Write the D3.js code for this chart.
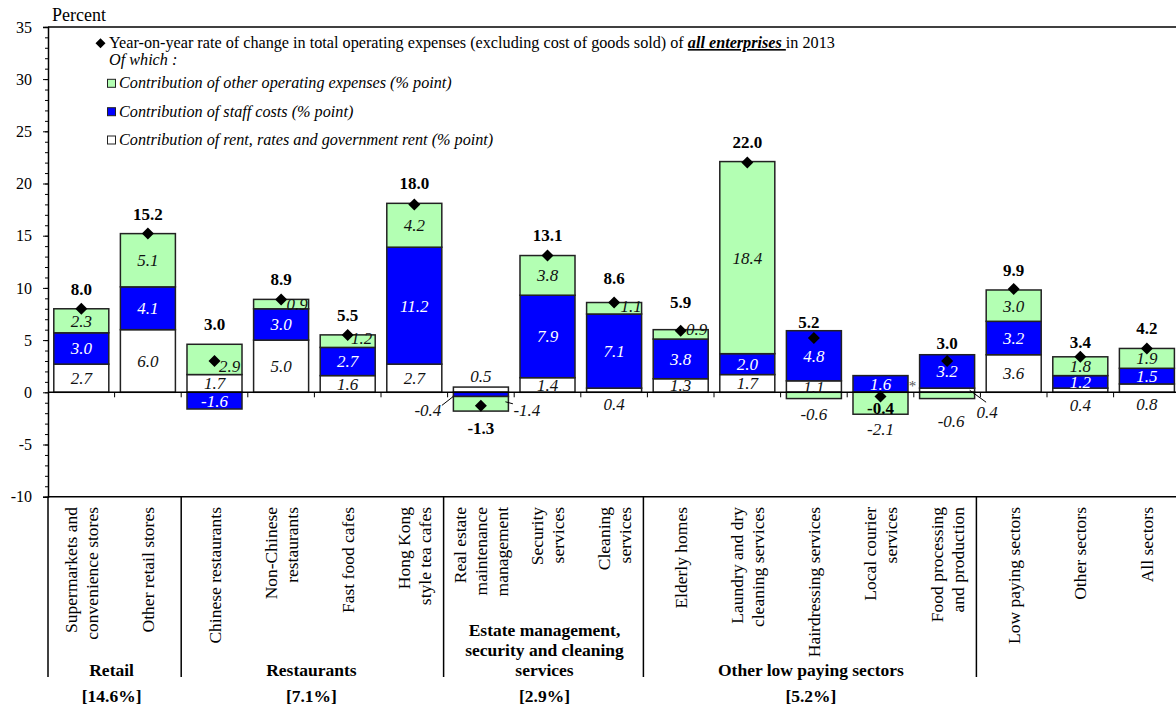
<!DOCTYPE html>
<html><head><meta charset="utf-8">
<script src="https://cdn.jsdelivr.net/npm/d3@7"></script>
<style>
html,body{margin:0;padding:0;background:#fff;}
svg{display:block;font-family:"Liberation Serif","Times New Roman",serif;}
</style></head>
<body><svg id="c" width="1176" height="709"></svg>
<script>
// ---------- data ----------
const categories = ["Supermarkets and|convenience stores","Other retail stores","Chinese restaurants","Non-Chinese|restaurants","Fast food cafes","Hong Kong|style tea cafes","Real estate|maintenance|management","Security|services","Cleaning|services","Elderly homes","Laundry and dry|cleaning services","Hairdressing services","Local courier|services","Food processing|and production","Low paying sectors","Other sectors","All sectors"];
const rentValues  = [2.7, 6.0, 1.7, 5.0, 1.6, 2.7, 0.5, 1.4, 0.4, 1.3, 1.7, 1.1, 0.0, 0.4, 3.6, 0.4, 0.8];
const staffValues = [3.0, 4.1,-1.6, 3.0, 2.7,11.2,-0.4, 7.9, 7.1, 3.8, 2.0, 4.8, 1.6, 3.2, 3.2, 1.2, 1.5];
const otherValues = [2.3, 5.1, 2.9, 0.9, 1.2, 4.2,-1.4, 3.8, 1.1, 0.9,18.4,-0.6,-2.1,-0.6, 3.0, 1.8, 1.9];
const totalValues = [8.0,15.2, 3.0, 8.9, 5.5,18.0,-1.3,13.1, 8.6, 5.9,22.0, 5.2,-0.4, 3.0, 9.9, 3.4, 4.2];
const groupNames  = ["Retail","Restaurants","Estate management,|security and cleaning|services","Other low paying sectors"];
const groupShares = ["[14.6%]","[7.1%]","[2.9%]","[5.2%]"];
const groupSizes  = [2, 4, 3, 5];
const yTicks = [-10,-5,0,5,10,15,20,25,30,35];
const legendLabels = ["Contribution of other operating expenses (% point)","Contribution of staff costs (% point)","Contribution of rent, rates and government rent (% point)"];

// ---------- setup ----------
const svg = d3.select("#c");
const colors = {rent:"#ffffff", staff:"#0000ff", other:"#b3ffb3"};
const n = categories.length;
const left = 48, step = 66.6;
const x = d3.scaleBand().domain(d3.range(n)).range([left, left + n*step]).paddingInner(0.174).paddingOuter(0.087);
const y = d3.scaleLinear().domain([-10,35]).range([496.7, 26.9]);

// frame lines
svg.append("line").attr("x1",left).attr("x2",1176).attr("y1",y(35)).attr("y2",y(35)).attr("stroke","#000").attr("stroke-width",1.5);
svg.append("line").attr("x1",left).attr("x2",1176).attr("y1",y(-10)).attr("y2",y(-10)).attr("stroke","#000").attr("stroke-width",1.5);

// y axis
const yMinor = svg.append("g").attr("transform",`translate(${left},0)`)
  .call(d3.axisLeft(y).tickValues(d3.range(-10,36,1)).tickSize(3).tickFormat(""));
yMinor.select(".domain").remove();
yMinor.selectAll("line").attr("stroke","#000");
const yAx = svg.append("g").attr("transform",`translate(${left},0)`)
  .call(d3.axisLeft(y).tickValues(yTicks).tickSize(5).tickPadding(11).tickFormat(d=>String(d)));
yAx.select(".domain").attr("stroke","#000").attr("stroke-width",1.5);
yAx.selectAll("text").attr("font-size",16).attr("font-family","Liberation Serif").attr("fill","#000");
yAx.selectAll("line").attr("stroke","#000");
svg.append("line").attr("x1",left).attr("x2",left).attr("y1",y(-10)).attr("y2",677).attr("stroke","#000").attr("stroke-width",1.5);

svg.append("text").attr("x",52).attr("y",21).attr("font-size",18).text("Percent");

// ---------- stacked bars ----------
const segs = [];
for (let i=0;i<n;i++){
  let pos=0, neg=0;
  [["rent",rentValues[i]],["staff",staffValues[i]],["other",otherValues[i]]].forEach(([k,v])=>{
    let y0,y1;
    if (v>=0){ y0=pos; y1=pos+v; pos+=v; } else { y0=neg+v; y1=neg; neg+=v; }
    segs.push({i,k,v,y0,y1});
  });
}
svg.append("g").selectAll("rect").data(segs.filter(s=>s.v!==0)).join("rect")
  .attr("x",d=>x(d.i)).attr("width",x.bandwidth())
  .attr("y",d=>y(d.y1)).attr("height",d=>y(d.y0)-y(d.y1))
  .attr("fill",d=>colors[d.k]).attr("stroke","#222").attr("stroke-width",1.5);

// zero axis line + ticks
svg.append("line").attr("x1",left).attr("x2",1176).attr("y1",y(0)).attr("y2",y(0)).attr("stroke","#000").attr("stroke-width",1.5);
svg.append("g").selectAll("line").data(d3.range(1,n)).join("line")
  .attr("x1",d=>left+d*step).attr("x2",d=>left+d*step).attr("y1",y(0)).attr("y2",y(0)+5)
  .attr("stroke","#000").attr("stroke-width",1);

// ---------- segment labels ----------
const over = {
  "2-other":{dx:15,dy:7}, "3-other":{dx:16,dy:0}, "4-other":{dx:14,dy:-3},
  "8-other":{dx:17,dy:-2}, "9-other":{dx:16,dy:-5},
  "8-rent":{dx:0,dy:14}, "6-rent":{dx:0,dy:-14},
  "6-staff":{dx:-53,dy:16,leader:"L"}, "6-other":{dx:46,dy:6,leader:"R"},
  "11-other":{dx:0,dy:19}, "12-other":{dx:0,dy:26}, "12-rent":{dx:32,dy:-7,star:true},
  "13-rent":{dx:40,dy:22,leader:"D"}, "13-other":{dx:4,dy:26},
  "15-rent":{dx:0,dy:15}, "16-rent":{dx:0,dy:16}
};
const lg = svg.append("g");
segs.forEach(s=>{
  const key = s.i+"-"+s.k, o = over[key]||{dx:0,dy:0};
  const cx = x(s.i)+x.bandwidth()/2, cy = (y(s.y0)+y(s.y1))/2;
  const lx = cx+o.dx, ly = cy+o.dy;
  const t = lg.append("text").attr("x",lx).attr("y",ly).attr("dy","0.35em")
    .attr("text-anchor","middle").attr("font-style","italic")
    .attr("font-size", o.star?15:17)
    .attr("fill", o.star ? "#555" : (s.k==="staff" && !o.leader ? "#fff" : "#111"))
    .text(o.star ? "*" : s.v.toFixed(1));
  if (o.star) t.attr("font-style","normal");
  if (o.leader==="L"){
    lg.append("line").attr("x1",x(s.i)).attr("y1",cy+2).attr("x2",lx+14).attr("y2",ly-5).attr("stroke","#000").attr("stroke-width",1);
  } else if (o.leader==="R"){
    lg.append("line").attr("x1",x(s.i)+x.bandwidth()-3).attr("y1",cy-2).attr("x2",lx-14).attr("y2",ly-6).attr("stroke","#000").attr("stroke-width",1);
  } else if (o.leader==="D"){
    lg.append("line").attr("x1",x(s.i)+x.bandwidth()-5).attr("y1",cy).attr("x2",lx-1).attr("y2",ly-10).attr("stroke","#000").attr("stroke-width",1);
  }
});

// ---------- diamonds (total) ----------
const diamond = "M0,-6L6,0L0,6L-6,0Z";
svg.append("g").selectAll("path").data(totalValues).join("path")
  .attr("d",diamond).attr("fill","#000")
  .attr("transform",(d,i)=>`translate(${x(i)+x.bandwidth()/2},${y(d)})`);

// total labels
const totOver = {9:{dx:0,dy:-8}, 11:{dx:-5,dy:11}, 12:{dx:0,dy:-23}, 13:{dx:0,dy:8}, 15:{dx:0,dy:5}, 8:{dx:0,dy:-4}};
totalValues.forEach((v,i)=>{
  const posTop = segs.filter(s=>s.i===i).reduce((m,s)=>Math.max(m,s.y1),0);
  const negBot = segs.filter(s=>s.i===i).reduce((m,s)=>Math.min(m,s.y0),0);
  const o = totOver[i]||{dx:0,dy:0};
  const cy = v>=0 ? y(posTop)-20 : y(negBot)+17;
  svg.append("text").attr("x",x(i)+x.bandwidth()/2+o.dx).attr("y",cy+o.dy).attr("dy","0.35em")
    .attr("text-anchor","middle").attr("font-weight","bold").attr("font-size",17).attr("fill","#000")
    .text(v.toFixed(1));
});

// ---------- legend ----------
const leg = svg.append("g").attr("font-size",16.2);
leg.append("path").attr("d","M0,-5L5,0L0,5L-5,0Z").attr("fill","#000").attr("transform","translate(100.5,43.3)");
const t1 = leg.append("text").attr("x",109).attr("y",48);
t1.append("tspan").text("Year-on-year rate of change in total operating expenses (excluding cost of goods sold) of ");
t1.append("tspan").attr("font-weight","bold").attr("font-style","italic").attr("text-decoration","underline").text("all enterprises ");
t1.append("tspan").text("in 2013");
leg.append("text").attr("x",109).attr("y",65).attr("font-style","italic").text("Of which :");
const legKeys = ["other","staff","rent"];
const legY = [83.3, 111.7, 140];
legKeys.forEach((k,j)=>{
  leg.append("rect").attr("x",107.5).attr("y",legY[j]-4).attr("width",8).attr("height",8)
    .attr("fill",colors[k]).attr("stroke","#222").attr("stroke-width",1);
  leg.append("text").attr("x",119).attr("y",legY[j]+5).attr("font-style","italic").text(legendLabels[j]);
});

// ---------- category labels ----------
const cg = svg.append("g").attr("font-size",17.5).attr("fill","#000");
categories.forEach((c,i)=>{
  const lines = c.split("|");
  const cx = x(i)+x.bandwidth()/2;
  const t = cg.append("text").attr("transform",`translate(${cx},507) rotate(-90)`).attr("text-anchor","end");
  lines.forEach((ln,j)=>{
    t.append("tspan").attr("x",0).attr("y",(j-(lines.length-1)/2)*21 + 6).text(ln);
  });
});

// group separators and labels
let acc = 0;
const bounds = [0];
groupSizes.forEach(g=>{ acc+=g; bounds.push(acc); });
bounds.slice(1).forEach((b,j)=>{
  const sx = left+b*step-(j>0?4:0);
  svg.append("line").attr("x1",sx).attr("x2",sx).attr("y1",y(-10)).attr("y2",677)
    .attr("stroke","#000").attr("stroke-width",1.5);
});
groupNames.forEach((g,j)=>{
  const x0 = left+bounds[j]*step, x1 = left+bounds[j+1]*step;
  const cx = (x0+x1)/2 - 3;
  const lines = g.split("|");
  const t = svg.append("text").attr("text-anchor","middle").attr("font-weight","bold").attr("font-size",17.5);
  lines.forEach((ln,k)=>{
    t.append("tspan").attr("x",cx).attr("y",676 - (lines.length-1-k)*20).text(ln);
  });
  svg.append("text").attr("x",cx).attr("y",702).attr("text-anchor","middle").attr("font-weight","bold").attr("font-size",17.5).text(groupShares[j]);
});
</script></body></html>
